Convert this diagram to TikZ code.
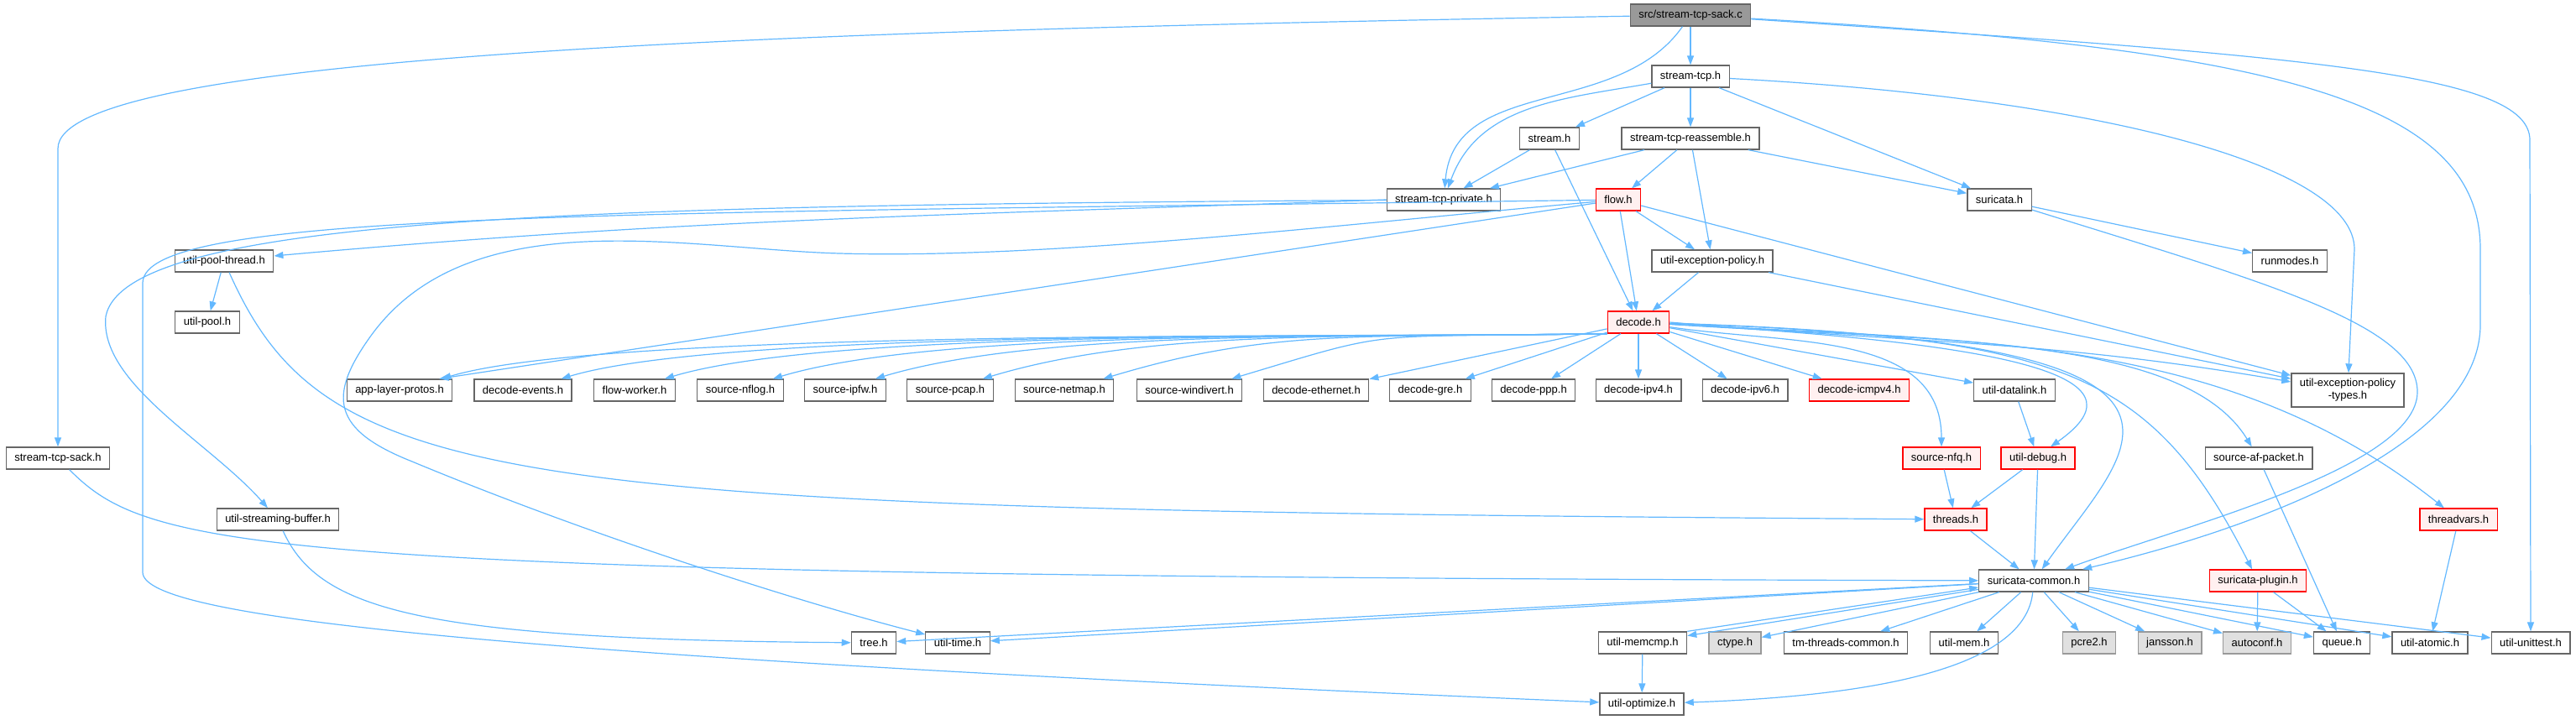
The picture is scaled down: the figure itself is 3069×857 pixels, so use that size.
\documentclass[tikz,border=0pt]{standalone}
\usepackage{fontspec}
\setmainfont{Liberation Sans}
\usetikzlibrary{arrows.meta}
\definecolor{depblue}{HTML}{63B8FF}
\definecolor{boxline}{HTML}{666666}
\definecolor{sysline}{HTML}{999999}
\definecolor{sysfill}{HTML}{E0E0E0}
\definecolor{truncfill}{HTML}{FFF0F0}
\begin{document}
\begin{tikzpicture}[x=1pt,y=1pt,
  hdr/.style={draw=boxline,fill=white,line width=1.3pt,minimum height=26pt,inner xsep=10pt,inner ysep=1pt,font=\fontsize{13}{15}\selectfont},
  trunc/.style={hdr,draw=red,fill=truncfill},
  syshdr/.style={hdr,draw=sysline,fill=sysfill},
  mainfile/.style={hdr,fill=sysline},
  dep/.style={draw=depblue,line width=1.2pt,-{Triangle[length=11pt,width=8pt]}}]
\useasboundingbox (0,0) rectangle (3069,857);
% headers, row by row from the top
\node[mainfile] (src) at (2014,839) {src/stream-tcp-sack.c};
\node[hdr] (tcp) at (2014,766) {stream-tcp.h};
\node[hdr] (stream) at (1846,692) {stream.h};
\node[hdr] (reasm) at (2014,692) {stream-tcp-reassemble.h};
\node[hdr] (priv) at (1720,619) {stream-tcp-private.h};
\node[trunc] (flow) at (1928,619) {flow.h};
\node[hdr] (suricata) at (2382,619) {suricata.h};
\node[hdr] (poolthr) at (267,546) {util-pool-thread.h};
\node[hdr] (excpol) at (2040,546) {util-exception-policy.h};
\node[hdr] (runmodes) at (2728,546) {runmodes.h};
\node[hdr] (pool) at (247,473) {util-pool.h};
\node[trunc] (decode) at (1952,473) {decode.h};
\foreach \n/\x/\lbl in {applp/476/app-layer-protos.h, devents/623/decode-events.h, fworker/756/flow-worker.h, nflog/882/source-nflog.h, ipfw/1007/source-ipfw.h, pcap/1132/source-pcap.h, netmap/1268/source-netmap.h, windivert/1417/source-windivert.h, ether/1568/decode-ethernet.h, gre/1704/decode-gre.h, ppp/1827/decode-ppp.h, ipv4/1952/decode-ipv4.h, ipv6/2079/decode-ipv6.h, datalink/2400/util-datalink.h}
  \node[hdr] (\n) at (\x,392) {\lbl};
\node[trunc] (icmpv4) at (2215,392) {decode-icmpv4.h};
\node[hdr,align=center,minimum height=40pt] (ptypes) at (2797,392) {util-exception-policy\\-types.h};
\node[hdr] (sacksh) at (69,311) {stream-tcp-sack.h};
\node[trunc] (nfq) at (2313,311) {source-nfq.h};
\node[trunc] (debug) at (2428,311) {util-debug.h};
\node[hdr] (afpkt) at (2691,311) {source-af-packet.h};
\node[hdr] (sbuf) at (331,238) {util-streaming-buffer.h};
\node[trunc] (threads) at (2330,238) {threads.h};
\node[trunc] (tvars) at (2929,238) {threadvars.h};
\node[hdr] (common) at (2423,165) {suricata-common.h};
\node[trunc] (plugin) at (2690,165) {suricata-plugin.h};
\foreach \n/\x/\lbl in {tree/1041/tree.h, utime/1141/util-time.h, memcmp/1957/util-memcmp.h, tmthr/2199/tm-threads-common.h, umem/2340/util-mem.h, queue/2790/queue.h, atomic/2895/util-atomic.h, unittest/3015/util-unittest.h}
  \node[hdr] (\n) at (\x,91) {\lbl};
\foreach \n/\x/\lbl in {ctype/2067/ctype.h, pcre/2489/pcre2.h, jansson/2585/jansson.h, autoconf/2689/autoconf.h}
  \node[syshdr] (\n) at (\x,91) {\lbl};
\node[hdr] (optimize) at (1956,18) {util-optimize.h};

% includes
\draw[dep] (src) -- (tcp);
\draw[dep] (src) to[out=235,in=85] (priv);
\draw[dep] (src) .. controls (900,820) and (69,790) .. (69,680) -- (sacksh);
\draw[dep] (src) .. controls (2700,800) and (2955,740) .. (2955,560) -- (2955,470) .. controls (2955,330) and (2700,230) .. (common);
\draw[dep] (src) .. controls (2750,790) and (3014,770) .. (3014,690) -- (unittest);
\draw[dep] (tcp) to[out=190,in=70] (priv);
\draw[dep] (tcp) -- (stream);
\draw[dep] (tcp) -- (reasm);
\draw[dep] (tcp) -- (suricata);
\draw[dep] (tcp) .. controls (2500,740) and (2805,660) .. (2805,560) -- (ptypes);
\draw[dep] (stream) -- (priv);
\draw[dep] (stream) -- (decode);
\draw[dep] (reasm) -- (priv);
\draw[dep] (reasm) -- (flow);
\draw[dep] (reasm) -- (excpol);
\draw[dep] (reasm) -- (suricata);
\draw[dep] (suricata) -- (runmodes);
\draw[dep] (suricata) .. controls (2700,520) and (2880,470) .. (2880,390) .. controls (2880,300) and (2600,230) .. (common);
\draw[dep] (priv.west) .. controls +(-500,-18) and +(500,45) .. ([yshift=6pt]poolthr.east);
\draw[dep] (priv) .. controls (700,612) and (150,600) .. (126,480) .. controls (118,400) and (250,330) .. (sbuf);
\draw[dep] (flow) -- (decode);
\draw[dep] (flow) -- (excpol);
\draw[dep] (flow) -- (ptypes);
\draw[dep] (flow) -- ([xshift=-16pt]applp.north east);
\draw[dep] (flow) .. controls (1600,590) and (1250,548) .. (1000,555) .. controls (820,560) and (560,620) .. (442,457) .. controls (390,385) and (395,345) .. (491,307) .. controls (700,220) and (950,140) .. (utime);
\draw[dep] (flow) .. controls (700,602) and (172,605) .. (170,520) -- (170,175) .. controls (170,120) and (600,75) .. (optimize);
\draw[dep] (poolthr) -- (pool);
\draw[dep] (poolthr) .. controls (390,270) and (600,250) .. (threads);
\draw[dep] (excpol) -- (decode);
\draw[dep] (excpol) -- (ptypes);
\foreach \n in {applp,devents,fworker,nflog,ipfw,pcap,netmap,windivert}
  \draw[dep] (decode.south west) .. controls +(-300,-5) and +(200,60) .. ([xshift=-13pt]\n.north east);
\foreach \n in {ether,gre,ppp,ipv4,ipv6,icmpv4,datalink}
  \draw[dep] (decode) -- (\n);
\draw[dep] (decode.east) .. controls +(290,-25) and +(-290,50) .. ([yshift=10pt]ptypes.west);
\draw[dep] (decode) .. controls (2130,446) and (2313,463) .. (nfq);
\draw[dep] (decode) .. controls (2450,445) and (2550,400) .. ([xshift=15pt]debug.north);
\draw[dep] (decode) .. controls (2700,450) and (2540,330) .. (common);
\draw[dep] (decode) .. controls (2450,455) and (2560,420) .. (plugin);
\draw[dep] (decode) .. controls (2300,450) and (2600,460) .. (afpkt);
\draw[dep] (decode) .. controls (2350,450) and (2650,460) .. (tvars);
\draw[dep] (datalink) -- (debug);
\draw[dep] (nfq) -- (threads);
\draw[dep] (debug) -- (threads);
\draw[dep] (debug) -- (common);
\draw[dep] (threads) -- (common);
\draw[dep] (sacksh) .. controls (180,200) and (300,170) .. (common);
\draw[dep] (sbuf) .. controls (380,130) and (500,95) .. (tree);
\draw[dep] (afpkt) -- (queue);
\draw[dep] (plugin) -- (autoconf);
\draw[dep] (plugin) -- (queue);
\draw[dep] (tvars) -- (atomic);
\draw[dep] (common) -- (tree);
\draw[dep] (common) -- (utime);
\draw[dep] (common) -- (memcmp);
\draw[dep] (memcmp.north east) -- ([yshift=-8pt]common.west);
\foreach \n in {ctype,tmthr,umem,pcre,jansson,autoconf,queue,atomic,unittest}
  \draw[dep] (common) -- (\n);
\draw[dep] (common) .. controls (2415,80) and (2300,30) .. (optimize);
\draw[dep] (memcmp) -- (optimize);
\end{tikzpicture}
\end{document}
